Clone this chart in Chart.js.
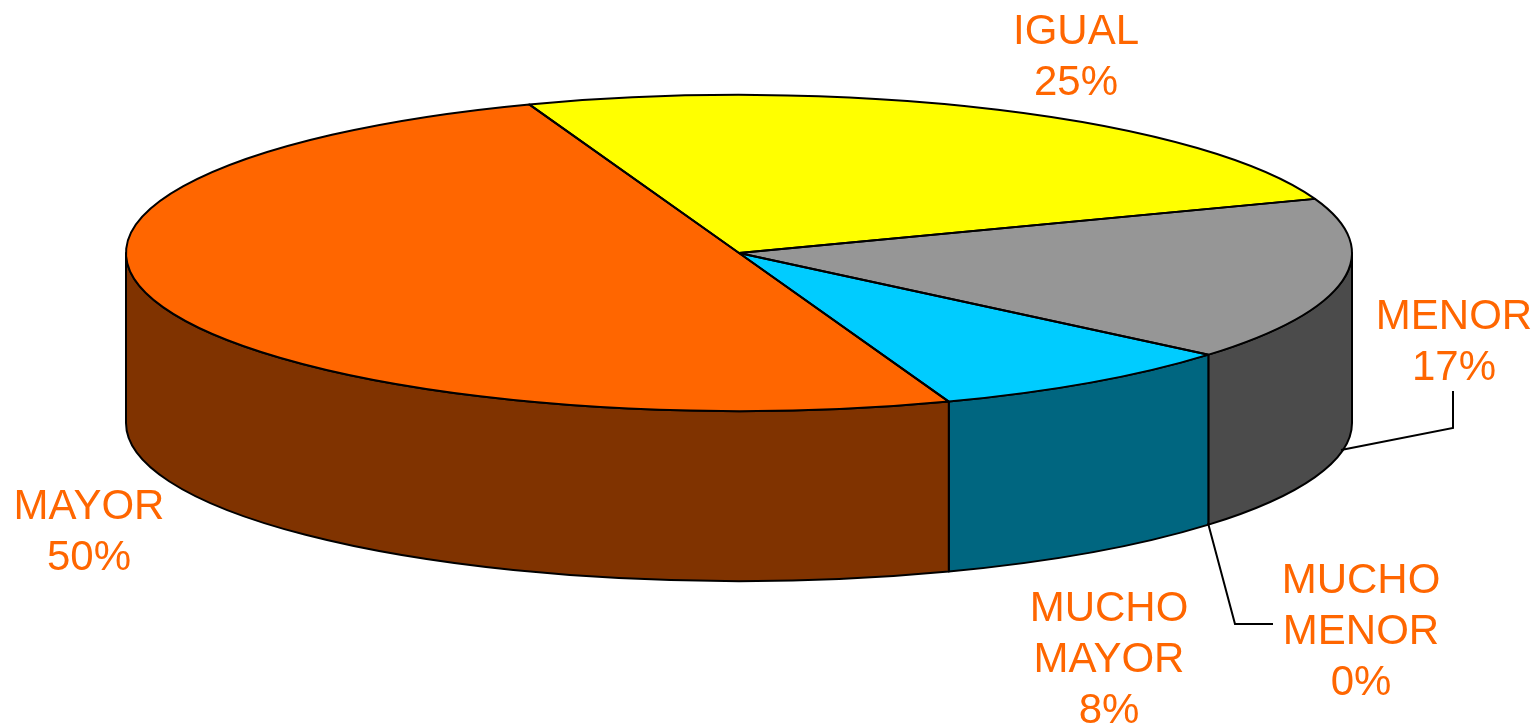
<!DOCTYPE html>
<html>
<head>
<meta charset="utf-8">
<title>Pastel 3D</title>
<script src="https://cdn.jsdelivr.net/npm/chart.js@4"></script>
<style>
  html, body { margin: 0; padding: 0; background: #fff; overflow: hidden; }
  canvas { display: block; }
</style>
</head>
<body>
<canvas id="grafico" width="1537" height="724"></canvas>
<script>
const categorias = ["MUCHO MAYOR", "MAYOR", "IGUAL", "MENOR", "MUCHO MENOR"];
const valores = [8.33, 50, 25, 16.67, 0];
const colores = ["#00CCFF", "#FF6600", "#FFFF00", "#969696", "#C0C0C0"];
const coloresLado = ["#006680", "#803300", "#808000", "#4B4B4B", "#606060"];

// Centro de cada etiqueta y linea base de su primer renglon
const posEtiquetas = [
  { x: 1109, y: 621 },
  { x: 89, y: 519 },
  { x: 1076, y: 44 },
  { x: 1454, y: 329 },
  { x: 1361, y: 593 }
];
// Lineas guia de MENOR y MUCHO MENOR
const guias = [
  [[1453, 391], [1453, 428], [1341, 450]],
  [[1208, 523], [1235, 624], [1273, 624]]
];

const APLASTADO = 0.258; // alto / ancho de la elipse
const GROSOR = 170;      // altura del cilindro
const RENGLON = 51;

function bordeSuperior(ctx, arco) {
  ctx.save();
  ctx.translate(arco.x, arco.y);
  ctx.scale(1, APLASTADO);
  ctx.beginPath();
  ctx.moveTo(0, 0);
  ctx.arc(0, 0, arco.outerRadius, arco.startAngle, arco.endAngle);
  ctx.closePath();
  ctx.restore();
}

const pastel3D = {
  id: "pastel3D",
  // Pared lateral, solo la parte de enfrente
  beforeDatasetDraw(chart) {
    const ctx = chart.ctx;
    const meta = chart.getDatasetMeta(0);
    ctx.save();
    ctx.lineWidth = 2;
    ctx.strokeStyle = "#000";
    ctx.lineJoin = "round";
    meta.data.forEach((arco, i) => {
      if (valores[i] === 0) return;
      const r = arco.outerRadius;
      const ry = r * APLASTADO;
      // recortar el tramo visible a 0..PI (tambien con la vuelta completa)
      [0, Math.PI * 2].forEach(vuelta => {
        const ini = Math.max(arco.startAngle - vuelta, 0);
        const fin = Math.min(arco.endAngle - vuelta, Math.PI);
        if (fin <= ini) return;
        ctx.beginPath();
        ctx.ellipse(arco.x, arco.y, r, ry, 0, ini, fin);
        ctx.ellipse(arco.x, arco.y + GROSOR, r, ry, 0, fin, ini, true);
        ctx.closePath();
        ctx.fillStyle = coloresLado[i];
        ctx.fill();
        ctx.stroke();
      });
    });
    ctx.restore();

    // La tapa se dibuja aplastada
    ctx.save();
    const primero = meta.data[0];
    ctx.translate(primero.x, primero.y);
    ctx.scale(1, APLASTADO);
    ctx.translate(-primero.x, -primero.y);
  },
  afterDatasetDraw(chart) {
    const ctx = chart.ctx;
    ctx.restore();
    // Contorno con grosor parejo, ya sin la escala
    ctx.save();
    ctx.lineWidth = 2;
    ctx.strokeStyle = "#000";
    ctx.lineJoin = "round";
    chart.getDatasetMeta(0).data.forEach((arco, i) => {
      if (valores[i] === 0) return;
      bordeSuperior(ctx, arco);
      ctx.stroke();
    });
    ctx.restore();
  },
  afterDraw(chart) {
    const ctx = chart.ctx;
    ctx.save();
    ctx.strokeStyle = "#000";
    ctx.lineWidth = 2;
    guias.forEach(g => {
      ctx.beginPath();
      g.forEach((p, i) => i ? ctx.lineTo(p[0], p[1]) : ctx.moveTo(p[0], p[1]));
      ctx.stroke();
    });
    ctx.fillStyle = "#FF6600";
    ctx.font = '42px "Liberation Sans", Arial, sans-serif';
    ctx.textAlign = "center";
    ctx.textBaseline = "alphabetic";
    categorias.forEach((nombre, i) => {
      const renglones = nombre.split(" ").concat(Math.round(valores[i]) + "%");
      renglones.forEach((txt, n) => {
        ctx.fillText(txt, posEtiquetas[i].x, posEtiquetas[i].y + n * RENGLON);
      });
    });
    ctx.restore();
  }
};

new Chart(document.getElementById("grafico"), {
  type: "pie",
  data: {
    labels: categorias,
    datasets: [{
      data: valores,
      backgroundColor: colores,
      borderWidth: 0,
      clip: false
    }]
  },
  options: {
    responsive: false,
    animation: false,
    rotation: 130,
    radius: 613,
    layout: { padding: { left: 0, top: 0, right: 59, bottom: 218 } },
    plugins: { legend: { display: false }, tooltip: { enabled: false } }
  },
  plugins: [pastel3D]
});
</script>
</body>
</html>
